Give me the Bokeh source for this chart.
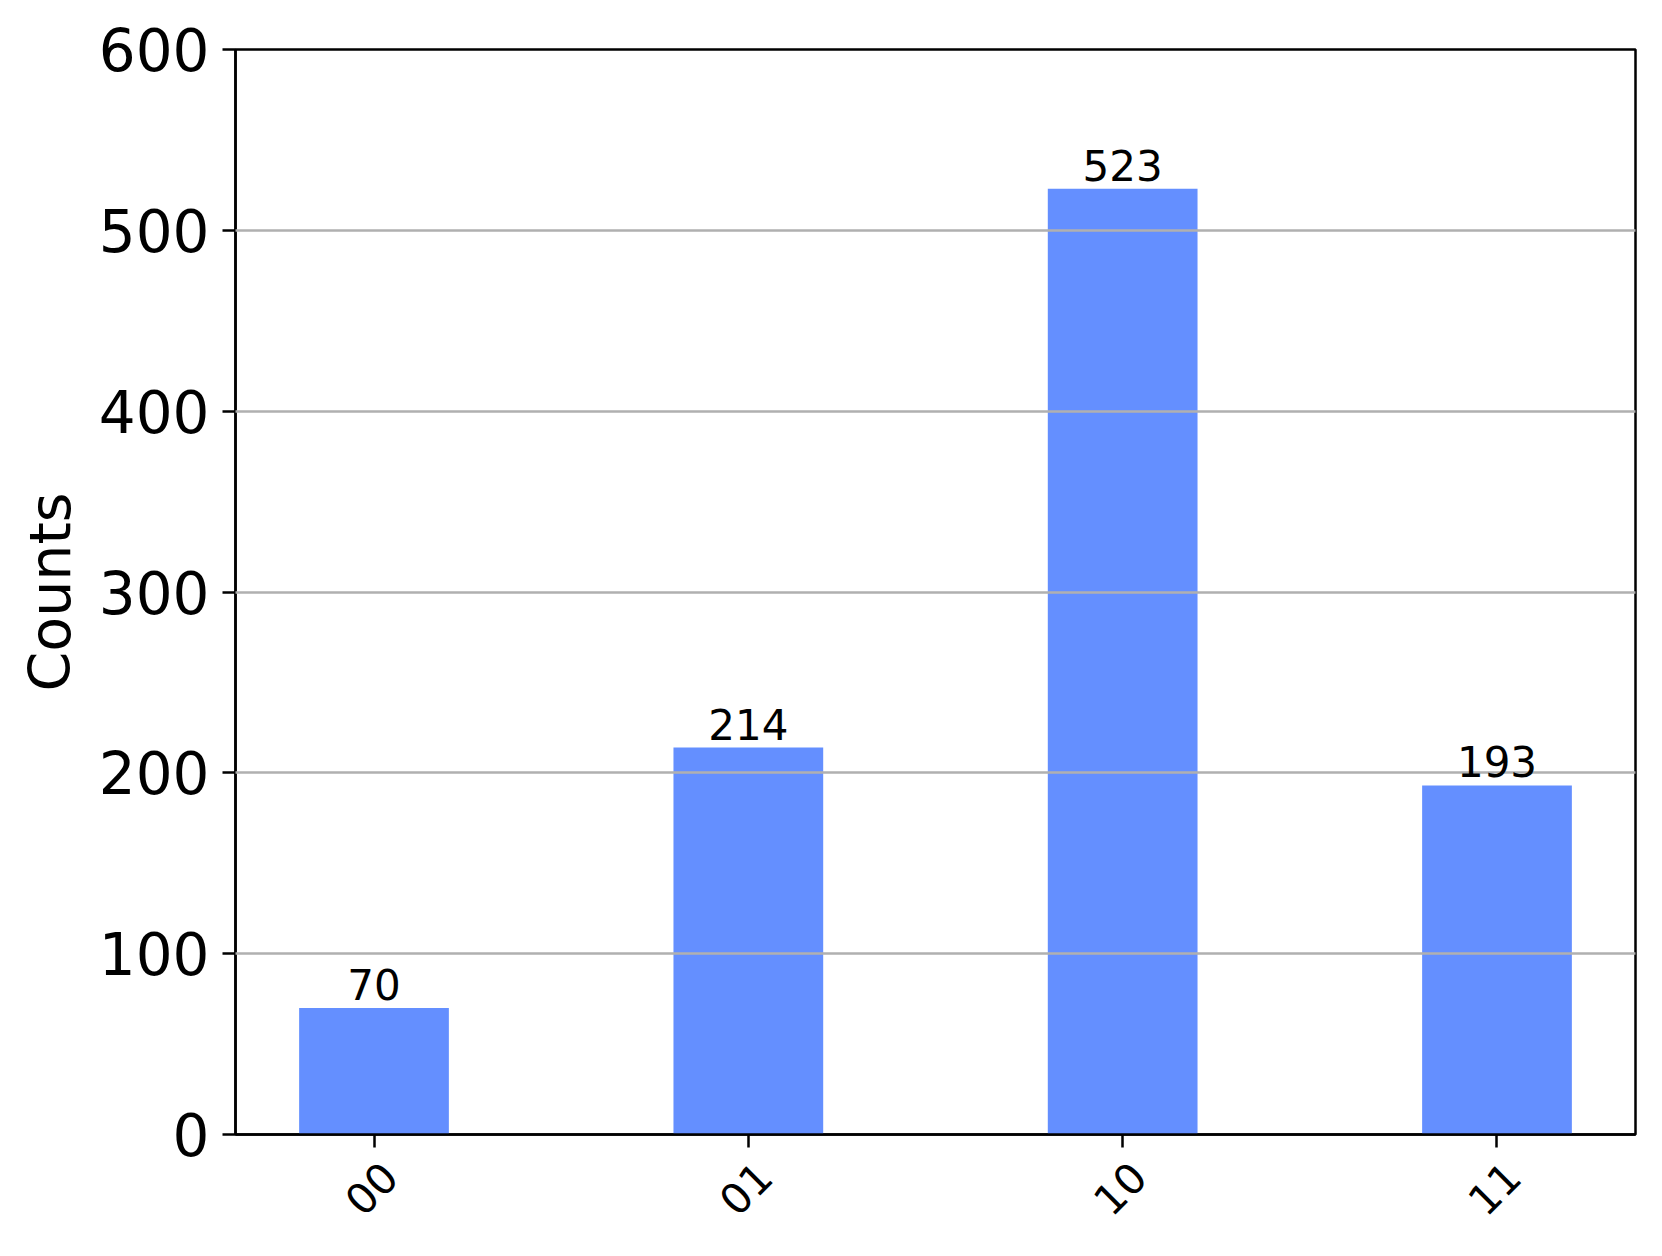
from bokeh.plotting import figure
from bokeh.models import ColumnDataSource, Range1d, FixedTicker, LabelSet, LinearAxis
from bokeh.embed import file_html
from bokeh.resources import INLINE
from bokeh.core.properties import value
from math import pi

states = ["00", "01", "10", "11"]
counts = [70, 214, 523, 193]
y_ticks = [0, 100, 200, 300, 400, 500, 600]

x_pos = list(range(len(states)))
BAR_W = 0.4
MARGIN = 0.05 * (len(states) - 1 + BAR_W)  # matplotlib-like 5% auto margin
X_START = -BAR_W / 2 - MARGIN
X_END = len(states) - 1 + BAR_W / 2 + MARGIN

src = ColumnDataSource(dict(x=x_pos, top=counts, label=[str(c) for c in counts]))

FONT = "DejaVu Sans"
W, H = 1650, 1244
BL, BR, BT, BB = 235, 15, 49, 110
FRAME_W = W - BL - BR

p = figure(
    width=W, height=H,
    x_range=Range1d(X_START, X_END),
    y_range=Range1d(0, 600),
    output_backend="svg", toolbar_location=None,
    min_border_left=BL, min_border_right=BR, min_border_top=BT, min_border_bottom=BB,
)
p.background_fill_color = "white"
p.border_fill_color = "white"
p.outline_line_color = "black"
p.outline_line_width = 2.5
p.outline_line_alpha = 1.0

p.vbar(x="x", top="top", width=BAR_W, source=src, fill_color="#648fff", line_color=None)

bar_labels = LabelSet(x="x", y="top", text="label", source=src, text_align="center",
                      text_baseline="alphabetic", y_offset=8,
                      text_font=value(FONT), text_font_size="42px", text_color="black")
p.add_layout(bar_labels)

p.xgrid.visible = False
p.ygrid.grid_line_color = "#b0b0b0"
p.ygrid.grid_line_width = 2.5
p.ygrid.level = "annotation"
p.yaxis.ticker = FixedTicker(ticks=y_ticks)
p.yaxis.minor_tick_line_color = None
p.xaxis.ticker = FixedTicker(ticks=x_pos)
p.xaxis.minor_tick_line_color = None
p.xaxis.major_label_overrides = {i: "" for i in x_pos}
p.xaxis.major_label_text_font_size = "0px"
p.xaxis.major_label_standoff = 0

for ax in (p.xaxis[0], p.yaxis[0]):
    ax.axis_line_color = "black"
    ax.axis_line_width = 2.5
    ax.major_tick_line_color = "black"
    ax.major_tick_line_width = 2.5
    ax.major_tick_out = 13
    ax.major_tick_in = 0
    ax.major_label_text_font = FONT
    ax.major_label_text_color = "black"

p.yaxis.major_label_text_font_size = "58px"
p.yaxis.major_label_standoff = 13
p.yaxis.axis_label = "Counts"
p.yaxis.axis_label_text_font = FONT
p.yaxis.axis_label_text_font_size = "57px"
p.yaxis.axis_label_text_font_style = "normal"
p.yaxis.axis_label_text_color = "black"
p.yaxis.axis_label_standoff = 13

# Rotated category labels: a label-only axis whose range is nudged so that the
# (right-anchored) rotated labels end up centred under the ticks, as in matplotlib.
LABEL_SHIFT_PX = 16
shift = LABEL_SHIFT_PX / FRAME_W * (X_END - X_START)
p.extra_x_ranges = {"labels": Range1d(X_START - shift, X_END - shift)}
lab_axis = LinearAxis(x_range_name="labels", ticker=FixedTicker(ticks=x_pos),
                      major_label_overrides={i: s for i, s in zip(x_pos, states)})
lab_axis.axis_line_color = None
lab_axis.major_tick_line_color = None
lab_axis.minor_tick_line_color = None
lab_axis.major_tick_out = 0
lab_axis.major_tick_in = 0
lab_axis.major_label_orientation = pi / 4
lab_axis.major_label_text_font = FONT
lab_axis.major_label_text_font_size = "42px"
lab_axis.major_label_text_color = "black"
lab_axis.major_label_standoff = 22
p.add_layout(lab_axis, "below")

open("out.html", "w").write(file_html(p, INLINE))
